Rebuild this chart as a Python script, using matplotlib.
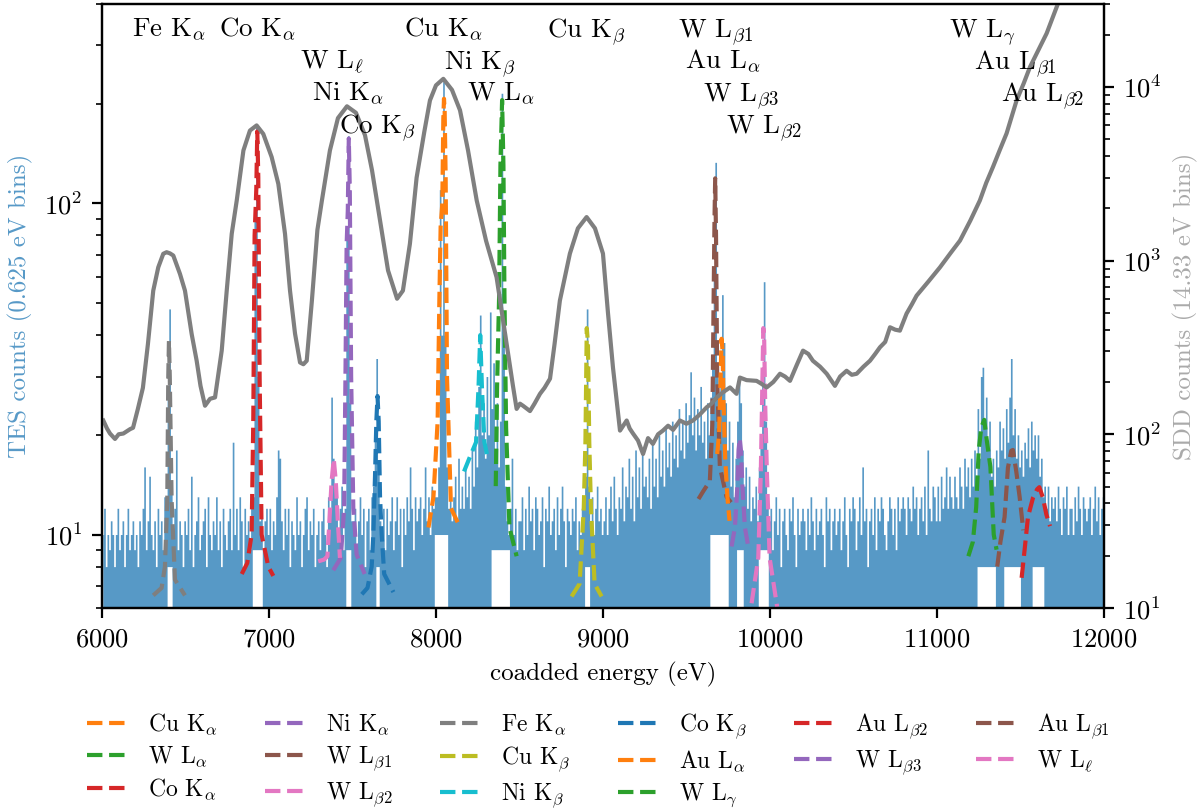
import numpy as np
import matplotlib
matplotlib.use("Agg")
import matplotlib.pyplot as plt
from matplotlib.transforms import blended_transform_factory

plt.rcParams.update({
    "font.family": "serif",
    "font.serif": ["cmr10"],
    "mathtext.fontset": "cm",
    "axes.formatter.use_mathtext": True,
    "axes.unicode_minus": False,
    "font.size": 9,
    "xtick.labelsize": 9.6,
    "ytick.labelsize": 9.6,
})

# TES histogram, 10 eV columns from 6000 to 12000 eV (max count per column)
tes_counts = [
    # 6000-6500
    10, 12, 8, 10, 9, 11, 10, 8, 10, 12, 9, 10, 11, 8, 10, 12, 9, 10, 11, 9,
    10, 8, 11, 10, 12, 16, 9, 11, 15, 10, 9, 11, 8, 12, 10, 11, 9, 13, 12, 28,
    48, 14, 10, 12, 18, 9, 11, 10, 8, 11,
    # 6500-7000
    10, 12, 9, 15, 8, 10, 11, 13, 9, 10, 11, 12, 8, 13, 10, 9, 11, 10, 13, 9,
    11, 8, 12, 10, 9, 11, 12, 9, 19, 10, 12, 9, 13, 11, 8, 12, 10, 11, 9, 12,
    13, 90, 172, 30, 11, 12, 9, 11, 12, 10,
    # 7000-7500
    12, 9, 11, 10, 13, 18, 17, 11, 9, 12, 10, 12, 8, 11, 10, 9, 13, 10, 11, 8,
    10, 12, 13, 9, 11, 10, 12, 8, 10, 11, 9, 11, 12, 10, 8, 13, 12, 26, 17, 14,
    13, 10, 12, 14, 9, 12, 80, 160, 25, 11,
    # 7500-8000
    11, 12, 9, 11, 13, 10, 12, 8, 11, 12, 9, 13, 14, 20, 34, 16, 11, 10, 12, 9,
    12, 10, 11, 13, 9, 11, 13, 10, 12, 8, 12, 10, 13, 11, 16, 12, 9, 13, 11, 12,
    13, 10, 12, 16, 11, 13, 10, 14, 12, 13,
    # 8000-8500
    13, 16, 110, 40, 233, 40, 16, 12, 13, 11, 13, 15, 11, 17, 12, 14, 12, 16, 13, 15,
    12, 18, 14, 22, 16, 28, 46, 20, 25, 17, 30, 20, 47, 24, 33, 18, 25, 16, 22, 215,
    40, 14, 11, 10, 12, 17, 10, 12, 9, 11,
    # 8500-9000
    11, 13, 9, 12, 10, 14, 11, 12, 9, 13, 12, 10, 11, 13, 8, 12, 11, 14, 10, 11,
    12, 9, 13, 10, 12, 14, 11, 8, 12, 11, 10, 12, 11, 13, 9, 11, 10, 12, 13, 15,
    48, 14, 11, 13, 10, 12, 14, 11, 12, 10,
    # 9000-9500
    11, 13, 10, 12, 14, 11, 15, 12, 10, 13, 12, 16, 11, 14, 13, 17, 12, 15, 11, 18,
    13, 16, 12, 18, 14, 15, 13, 17, 12, 19, 14, 17, 13, 20, 15, 18, 14, 21, 16, 19,
    15, 22, 17, 20, 16, 24, 18, 22, 17, 25,
    # 9500-10000
    19, 23, 31, 20, 26, 18, 24, 20, 28, 19, 22, 17, 25, 20, 26, 35, 60, 133, 30, 25,
    30, 53, 38, 25, 18, 22, 14, 19, 13, 17, 22, 30, 25, 18, 14, 16, 12, 15, 11, 13,
    12, 14, 11, 16, 20, 30, 58, 22, 13, 11,
    # 10000-10500
    12, 9, 11, 13, 10, 12, 8, 11, 12, 10, 9, 12, 11, 13, 10, 8, 12, 10, 11, 12,
    11, 9, 12, 10, 13, 11, 9, 12, 10, 11, 12, 10, 8, 13, 11, 12, 9, 11, 12, 10,
    11, 12, 9, 11, 13, 10, 8, 12, 11, 13,
    # 10500-11000
    12, 9, 11, 13, 10, 16, 11, 12, 8, 11, 12, 10, 13, 9, 12, 11, 13, 12, 10, 9,
    11, 13, 12, 10, 12, 9, 13, 11, 12, 13, 12, 10, 13, 12, 11, 14, 12, 13, 10, 12,
    13, 11, 14, 10, 18, 12, 11, 14, 13, 11,
    # 11000-11500
    14, 11, 15, 12, 13, 16, 12, 15, 13, 12, 15, 13, 12, 16, 14, 12, 17, 14, 16, 13,
    17, 14, 18, 15, 24, 17, 30, 32, 22, 26, 18, 22, 15, 17, 14, 18, 16, 22, 18, 21,
    17, 24, 19, 26, 34, 20, 24, 17, 20, 16,
    # 11500-12000
    18, 15, 19, 17, 21, 16, 22, 18, 20, 17, 20, 15, 17, 13, 14, 12, 14, 11, 13, 12,
    13, 11, 14, 12, 10, 13, 12, 14, 10, 12, 12, 10, 13, 11, 14, 12, 10, 13, 12, 11,
    12, 13, 10, 12, 14, 11, 13, 10, 12, 13,
]

# stretches where no column drops to zero counts: start, end, lowest count
gap_start = [6388, 6900, 7460, 7636, 7995, 8330, 8893, 9640, 9800, 9928, 11245, 11400, 11570]
gap_end = [6420, 6958, 7492, 7656, 8072, 8440, 8917, 9745, 9840, 9988, 11345, 11495, 11635]
gap_floor = [8, 9, 9, 8, 10, 9, 8, 10, 9, 9, 8, 8, 8]

# SDD spectrum (14.33 eV bins)
sdd_energy = [
    6008, 6030, 6048, 6078, 6100, 6128, 6168, 6186, 6215, 6245, 6275, 6307, 6337,
    6367, 6387, 6407, 6427, 6467, 6497, 6537, 6567, 6590, 6617, 6647, 6677, 6717,
    6747, 6777, 6807, 6847, 6886, 6926, 6966, 7016, 7056, 7096, 7126, 7156, 7186,
    7206, 7226, 7257, 7290, 7317, 7365, 7413, 7467, 7521, 7575, 7617, 7665, 7713,
    7767, 7802, 7844, 7884, 7930, 7964, 8000, 8044, 8096, 8144, 8192, 8244, 8300,
    8363, 8423, 8461, 8483, 8503, 8521, 8563, 8590, 8623, 8650, 8683, 8710, 8742,
    8802, 8850, 8902, 8952, 9000, 9030, 9060, 9102, 9142, 9160, 9180, 9210, 9240,
    9270, 9299, 9330, 9359, 9390, 9420, 9461, 9500, 9539, 9580, 9621, 9650, 9681,
    9720, 9761, 9800, 9820, 9860, 9920, 9950, 9980, 10020, 10060, 10090, 10120,
    10160, 10198, 10230, 10257, 10300, 10340, 10389, 10420, 10459, 10490, 10519,
    10560, 10599, 10630, 10659, 10690, 10719, 10750, 10778, 10818, 10850, 10878,
    10950, 11018, 11080, 11138, 11200, 11257, 11295, 11335, 11375, 11417, 11477,
    11520, 11557, 11610, 11657, 11725, 11850, 12000,
]
sdd_counts = [
    120, 108, 101, 94, 100, 101, 107, 109, 140, 185, 330, 671, 914,
    1094, 1117, 1100, 1069, 838, 671, 378, 265, 190, 146, 160, 163, 303,
    671, 1426, 2218, 4306, 5602, 5998, 5356, 3945, 2763, 1426, 671, 380, 259,
    253, 265, 588, 1500, 2218, 4306, 6608, 7727, 7089, 5266, 3310, 1696, 877,
    603, 671, 1250, 3000, 5500, 8356, 10200, 11120, 9603, 7330, 4306, 2218, 1300,
    801, 330, 190, 140, 150, 146, 136, 150, 171, 185, 209, 330, 588,
    1097, 1534, 1780, 1534, 1097, 500, 242, 105, 120, 108, 101, 92, 77,
    95, 88, 100, 105, 112, 106, 120, 115, 120, 130, 143, 150, 163,
    175, 186, 171, 212, 205, 203, 195, 186, 200, 223, 215, 203,
    250, 303, 290, 265, 245, 223, 190, 215, 232, 220, 223,
    245, 265, 290, 317, 340, 413, 400, 395, 495, 560, 628,
    760, 914, 1100, 1303, 1700, 2218, 2800, 3450, 4300, 5395, 8356,
    10500, 13003, 16500, 20330, 30200, 42000, 60000,
]

# fitted line profiles
fit_names = [
    r"Cu K$_\alpha$", r"W L$_\alpha$", r"Co K$_\alpha$", r"Ni K$_\alpha$",
    r"W L$_{\beta1}$", r"W L$_{\beta2}$", r"Fe K$_\alpha$", r"Cu K$_\beta$",
    r"Ni K$_\beta$", r"Co K$_\beta$", r"Au L$_\alpha$", r"W L$_\gamma$",
    r"Au L$_{\beta2}$", r"W L$_{\beta3}$", r"Au L$_{\beta1}$", r"W L$_\ell$",
]
fit_energy = [
    [7955, 7985, 8010, 8020, 8028, 8038, 8044, 8048, 8052, 8058, 8066, 8090, 8145],
    [8358, 8366, 8378, 8386, 8396, 8404, 8410, 8420, 8440, 8483],
    [6837, 6870, 6896, 6906, 6914, 6924, 6930, 6936, 6944, 6956, 6996, 7026],
    [7385, 7430, 7450, 7458, 7465, 7472, 7478, 7484, 7492, 7505, 7525, 7573],
    [9572, 9600, 9640, 9655, 9662, 9668, 9672, 9677, 9684, 9700, 9740, 9767],
    [9890, 9930, 9945, 9952, 9960, 9965, 9972, 9982, 9998, 10043],
    [6307, 6357, 6377, 6391, 6397, 6401, 6406, 6417, 6437, 6497],
    [8812, 8860, 8885, 8895, 8903, 8910, 8918, 8928, 8950, 8992],
    [8168, 8200, 8240, 8255, 8265, 8275, 8290, 8305],
    [7556, 7590, 7615, 7625, 7635, 7643, 7650, 7657, 7665, 7675, 7690, 7745],
    [9684, 9695, 9703, 9710, 9716, 9722, 9732, 9745, 9758],
    [11188, 11215, 11235, 11250, 11265, 11283, 11300, 11320, 11340, 11357],
    [11507, 11525, 11545, 11575, 11600, 11613, 11635, 11655, 11677],
    [9770, 9790, 9805, 9812, 9819, 9826, 9835, 9850, 9870],
    [11361, 11380, 11405, 11425, 11445, 11455, 11475, 11495, 11517],
    [7295, 7330, 7350, 7362, 7375, 7388, 7400, 7412, 7425],
]
fit_counts = [
    [10.5, 13, 22, 50, 85, 100, 180, 207, 190, 120, 30, 12, 10.5],
    [14, 28, 52, 130, 205, 130, 53, 21, 10.5, 8.6],
    [7.6, 8.2, 10, 22, 80, 110, 165, 120, 30, 10, 8, 7.5],
    [7.8, 8.5, 12, 30, 75, 95, 157, 110, 30, 12, 8.7, 7.6],
    [12.8, 13.5, 14.5, 21.5, 48, 90, 119, 80, 30, 16, 13, 12.5],
    [6.2, 8.5, 15.2, 24.2, 42, 40, 24, 15.2, 8.5, 6.05],
    [6.55, 6.9, 8.0, 12.7, 30, 38.4, 30, 12.7, 7.3, 6.55],
    [6.5, 7.1, 12, 19, 42, 38, 19, 12, 7.1, 6.5],
    [15.5, 17, 19, 28, 40, 28, 19, 17.5],
    [6.6, 6.9, 8, 10, 15, 22, 26.2, 22, 13, 10, 7.6, 6.7],
    [17.5, 20, 28, 39, 36, 25, 17, 13, 11],
    [8.6, 9.5, 12.1, 17.9, 21, 22.2, 19, 16, 10, 9],
    [7.4, 9.0, 11.3, 12.9, 13.7, 13.9, 12.9, 11.5, 10.6],
    [9.2, 10.5, 14, 18, 19.5, 18, 14, 10.5, 9.2],
    [8.0, 9.5, 11.3, 15.9, 17.9, 18.0, 15.5, 13, 10.3],
    [8.3, 8.4, 8.6, 11, 14.5, 16.9, 14.5, 11, 8.5],
]

# line labels along the top, staggered into rows
peak_labels = [
    r"Fe K$_\alpha$", r"Co K$_\alpha$", r"W L$_\ell$", r"Ni K$_\alpha$",
    r"Co K$_\beta$", r"Cu K$_\alpha$", r"Ni K$_\beta$", r"W L$_\alpha$",
    r"Cu K$_\beta$", r"W L$_{\beta1}$", r"Au L$_\alpha$", r"W L$_{\beta3}$",
    r"W L$_{\beta2}$", r"W L$_\gamma$", r"Au L$_{\beta1}$", r"Au L$_{\beta2}$",
]
peak_energy = [6400, 6930, 7380, 7475, 7652, 8046, 8262, 8390, 8903, 9672,
               9718, 9826, 9962, 11275, 11470, 11630]
label_row = [0, 0, 1, 2, 3, 0, 1, 2, 0, 0, 1, 2, 3, 0, 1, 2]


tes_energy = np.arange(6005, 12000, 10)
tes = np.array(tes_counts, dtype=float)
floor = np.ones_like(tes)
for lo, hi, f in zip(gap_start, gap_end, gap_floor):
    sel = (tes_energy >= lo) & (tes_energy <= hi)
    floor[sel] = f
floor = np.minimum(floor, tes)

fig = plt.figure(figsize=(6.02, 4.05), dpi=200)
ax = fig.add_axes([0.0847, 0.2494, 0.8322, 0.7457])

ax.fill_between(tes_energy, floor, tes, step="mid", color="C0", alpha=0.75, lw=0)

lines = []
for i, (name, e, c) in enumerate(zip(fit_names, fit_energy, fit_counts)):
    ln, = ax.plot(e, c, "--", color=f"C{(i + 1) % 10}", lw=1.5, label=name)
    lines.append(ln)

ax.set_yscale("log")
ax.set_xlim(6000, 12000)
ax.set_ylim(6, 400)
ax.set_xticks([6000, 7000, 8000, 9000, 10000, 11000, 12000])
ax.set_xlabel("coadded energy (eV)")
ax.set_ylabel("TES counts (0.625 eV bins)", color="#5799c7")

ax2 = ax.twinx()
ax2.plot(sdd_energy, sdd_counts, color="C7", lw=1.5)
ax2.set_yscale("log")
ax2.set_ylim(10, 30000)
ax2.set_ylabel("SDD counts (14.33 eV bins)", color="#aaaaaa")

trans = blended_transform_factory(ax2.transData, ax2.transAxes)
for lab, e, r in zip(peak_labels, peak_energy, label_row):
    ax2.text(e, 0.9454 - 0.053 * r, lab, transform=trans,
             ha="center", va="baseline", fontsize=9.7)

fig.legend(handles=lines, loc="upper center", bbox_to_anchor=(0.497, 0.148),
           ncol=6, frameon=False, fontsize=8.5, handlelength=1.75,
           handletextpad=0.85, labelspacing=0.33, columnspacing=2.0)

fig.savefig("out.png", dpi=200)
